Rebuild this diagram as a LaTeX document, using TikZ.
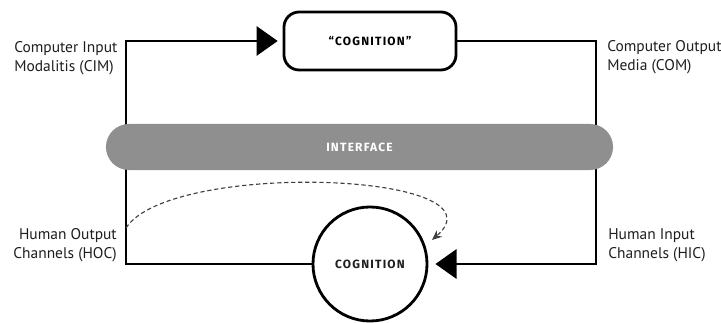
\documentclass[tikz,border=0pt]{standalone}
\usepackage{fontspec}
\setmainfont{PT Sans}
\newfontfamily\capsfont[LetterSpace=10]{Fira Sans}
\usetikzlibrary{arrows.meta, positioning}

\definecolor{ifgray}{HTML}{8F8F8F}
\definecolor{txtgray}{HTML}{1E1E1E}

\tikzset{
  flow/.style={line width=1pt, -{Triangle[length=15pt,width=21pt]}},
  loopflow/.style={line width=0.8pt, densely dashed, draw=black!75,
    -{Stealth[length=7pt,width=6pt]}},
  label/.style={text=txtgray, font=\fontsize{11}{13.5}\selectfont, inner sep=0pt},
  capstext/.style={font=\capsfont\bfseries\fontsize{8.5}{10}\selectfont},
}

\begin{document}
\begin{tikzpicture}[x=0.025cm, y=0.025cm]
\useasboundingbox (0,0) rectangle (721,322);

% the two cognitions
\node[draw, line width=2pt, rounded corners=0.38cm, minimum width=4.3cm,
  minimum height=1.45cm, capstext] (machine) at (370,281) {“COGNITION”};
\node[draw, circle, line width=2pt, minimum size=2.85cm, inner sep=0pt,
  capstext, text=txtgray] (human) at (370,58) {COGNITION};

% corners of the loop
\coordinate (cim) at (126,281);
\coordinate (com) at (596,281);
\coordinate (hoc) at (126,58);
\coordinate (hic) at (596,58);
\coordinate (thought) at (126,94);
\coordinate (aware) at (432,82);

\draw[flow, shorten >=3.5pt] (human) -- (hoc) -- (cim) -- (machine);
\draw[flow, shorten >=5pt] (machine) -- (com) -- (hic) -- (human);

\draw[loopflow] (thought) .. controls (170,162) and (510,150) .. (aware);

% interface bar on top of the lines
\node[fill=ifgray, rounded corners=0.575cm, minimum width=12.675cm,
  minimum height=1.15cm, text=white, capstext] (iface) at (359.5,175) {INTERFACE};

% labels
\node[label, align=left, anchor=west] (cimlbl) at (14,264)
  {Computer Input\\Modalitis (CIM)};
\node[label, align=left, anchor=west] (comlbl) at (607,265)
  {Computer Output\\Media (COM)};
\node[label, align=right, anchor=east] (hoclbl) at (117,77)
  {Human Output\\Channels (HOC)};
\node[label, align=left, anchor=west] (hiclbl) at (608,77)
  {Human Input\\Channels (HIC)};
\end{tikzpicture}
\end{document}
